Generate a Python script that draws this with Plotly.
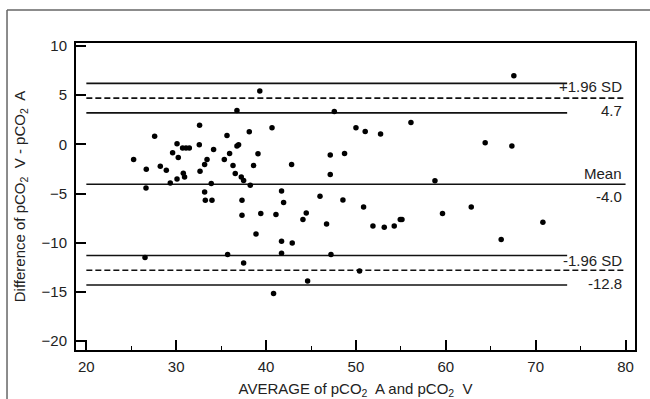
import plotly.graph_objects as go

# Bland-Altman data: average (x) and difference (y)
avg_pco2 = [25.26, 26.67, 26.64, 27.60, 28.23, 28.90, 29.34, 29.60, 30.09, 30.23,
            30.71, 31.09, 31.46, 30.09, 30.79, 30.93, 32.60, 32.57, 34.16, 32.65,
            33.16, 33.43, 33.90, 33.16, 33.24, 33.98, 35.35, 35.65, 35.94, 36.32,
            36.57, 36.76, 36.94, 36.76, 37.24, 37.50, 38.13, 38.61, 38.24, 39.30,
            39.10, 40.66, 42.84, 47.59, 47.14, 48.73, 47.14, 50.00, 51.03, 52.74,
            56.12, 58.79, 41.72, 67.57, 64.38, 67.35, 37.32, 37.32, 38.88, 39.41,
            26.53, 35.72, 37.50, 41.95, 41.10, 41.72, 42.91, 41.72, 47.22, 46.00,
            44.10, 44.47, 46.73, 48.55, 50.85, 51.89, 53.15, 54.26, 54.93, 55.12,
            59.63, 50.40, 44.62, 40.83, 62.83, 66.16, 70.80]
diff_pco2 = [-1.54, -2.52, -4.43, 0.83, -2.22, -2.63, -3.92, -0.86, 0.05, -1.33,
             -0.36, -0.36, -0.36, -3.51, -2.93, -3.31, 1.95, -0.05, -0.52, -2.73,
             -2.04, -1.54, -3.98, -4.83, -5.68, -5.68, -1.54, 0.91, -0.93, -2.15,
             -2.96, -0.18, -0.05, 3.45, -3.31, -3.67, 1.27, -2.15, -4.15, 5.41,
             -0.95, 1.68, -2.04, 3.35, -1.07, -0.93, -3.06, 1.68, 1.31, 1.04,
             2.23, -3.71, -4.74, 6.97, 0.15, -0.18, -5.68, -7.20, -9.10, -7.03,
             -11.51, -11.20, -12.05, -5.91, -7.13, -9.85, -10.02, -11.07, -11.20, -5.27,
             -7.64, -6.97, -8.09, -5.65, -6.36, -8.29, -8.42, -8.29, -7.64, -7.64,
             -7.03, -12.87, -13.89, -15.17, -6.36, -9.67, -7.91]

mean_diff = -4.05
upper_loa = 4.7
lower_loa = -12.8
upper_ci = [6.2, 3.2]
lower_ci = [-11.3, -14.3]
line_x = [20, 80]
ci_x = [20, 73.5]

x_ticks = [20, 30, 40, 50, 60, 70, 80]
y_ticks = [10, 5, 0, -5, -10, -15, -20]

fig = go.Figure()

# CI lines (solid, shorter)
for v in upper_ci + lower_ci:
    fig.add_trace(go.Scatter(x=ci_x, y=[v, v], mode="lines",
                             line=dict(color="#111", width=1.6),
                             hoverinfo="skip", showlegend=False))
# limits of agreement (dashed)
for v in [upper_loa, lower_loa]:
    fig.add_trace(go.Scatter(x=line_x, y=[v, v], mode="lines",
                             line=dict(color="#111", width=1.6, dash="6px,3px"),
                             hoverinfo="skip", showlegend=False))
# mean line
fig.add_trace(go.Scatter(x=line_x, y=[mean_diff, mean_diff], mode="lines",
                         line=dict(color="#111", width=1.6),
                         hoverinfo="skip", showlegend=False))
# points
fig.add_trace(go.Scatter(x=avg_pco2, y=diff_pco2, mode="markers",
                         marker=dict(color="black", size=5.5),
                         showlegend=False))

lab_font = dict(family="Liberation Sans, Arial, sans-serif", size=15, color="#222")
labels = [("+1.96 SD", upper_loa, 11.5), (f"{upper_loa:.1f}", upper_loa, -12.5),
          ("Mean", mean_diff, 10.8), (f"{mean_diff:.1f}", mean_diff, -12.2),
          ("-1.96 SD", lower_loa, 10.3), (f"{lower_loa:.1f}", lower_loa, -13)]
for txt, yv, sh in labels:
    fig.add_annotation(x=80, y=yv, text=txt, showarrow=False, xanchor="right",
                       yanchor="middle", yshift=sh, xshift=-2, font=lab_font)

# outer frame (gray) on top and left
fig.add_shape(type="line", xref="paper", yref="paper", x0=-0.1234, x1=1.05,
              y0=1.1075, y1=1.1075, line=dict(color="#666", width=1.5))
fig.add_shape(type="line", xref="paper", yref="paper", x0=-0.1234, x1=-0.1234,
              y0=1.1075, y1=-0.2, line=dict(color="#666", width=1.5))

axis_font = dict(family="Liberation Sans, Arial, sans-serif", size=15, color="#222")
fig.update_layout(
    width=650, height=399,
    margin=dict(l=76, r=15, t=43, b=49),
    paper_bgcolor="white", plot_bgcolor="white",
    font=axis_font,
    xaxis=dict(range=[18.85, 81.05], tickvals=x_ticks, ticks="inside", ticklen=10,
               tickwidth=1.5, tickcolor="black", showgrid=False, zeroline=False,
               showline=True, linecolor="black", linewidth=2, mirror=True,
               minor=dict(ticks="inside", ticklen=4, dtick=5, tick0=20,
                          tickcolor="black", tickwidth=1.2, showgrid=False),
               tickfont=axis_font, ticklabelstandoff=2, automargin=False,
               title=dict(text="AVERAGE of pCO<sub>2</sub>  A and pCO<sub>2</sub>  V",
                          font=axis_font, standoff=15)),
    yaxis=dict(range=[-20.9, 10.3], tickvals=y_ticks, ticks="inside", ticklen=10,
               tickwidth=1.5, tickcolor="black", showgrid=False, zeroline=False,
               showline=True, linecolor="black", linewidth=2, mirror=True,
               tickfont=axis_font, ticklabelstandoff=4, automargin=False,
               title=dict(text="Difference of pCO<sub>2</sub>  V - pCO<sub>2</sub>  A",
                          font=axis_font, standoff=12)),
)

fig.write_html("out.html", config={"displayModeBar": False},
               post_script="document.body.style.margin='0';")
